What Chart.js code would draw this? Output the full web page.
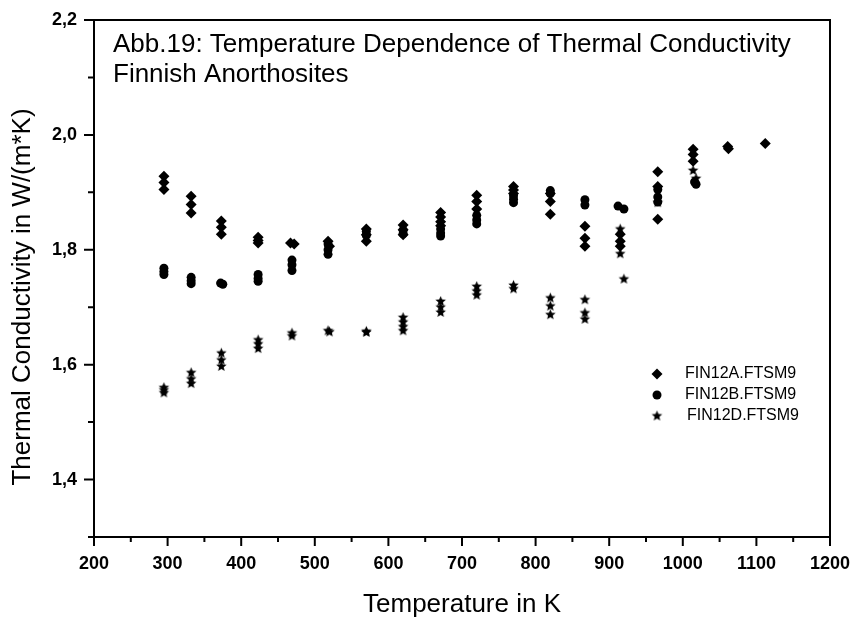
<!DOCTYPE html>
<html>
<head>
<meta charset="utf-8">
<script src="https://cdn.jsdelivr.net/npm/chart.js@4/dist/chart.umd.min.js"></script>
<style>
  body { margin: 0; background: #fff; }
  canvas { display: block; }
</style>
</head>
<body>
<canvas id="myChart" width="851" height="621"></canvas>
<script>
// FIN12A.FTSM9 (diamonds)
const tempA = [295,295,295, 332,332,332, 373,373,373, 423,423,423, 467,472, 518,520,
  570,570,570, 620,620,620, 671,671,671,671, 720,720,720, 770,770,770, 820,820,820,
  867,867,867, 915,915,915, 966,966,966, 1014,1014,1014, 1061,1062, 1112];
const condA = [1.928,1.917,1.905, 1.893,1.879,1.864, 1.850,1.839,1.827, 1.822,1.816,1.812, 1.812,1.810, 1.815,1.806,
  1.836,1.826,1.815, 1.843,1.835,1.826, 1.865,1.857,1.849,1.842, 1.895,1.884,1.871, 1.910,1.904,1.898, 1.898,1.884,1.862,
  1.841,1.820,1.806, 1.827,1.815,1.806, 1.936,1.910,1.853, 1.975,1.966,1.954, 1.980,1.976, 1.985];

// FIN12B.FTSM9 (circles)
const tempB = [295,295,295, 332,332,332, 372,375, 423,423,423, 469,469,469, 518,518,518,
  570,570, 620,620, 671,671,671, 720,720,720, 770,770,770, 820,820, 867,867, 912,920,
  966,966,966, 1016,1018];
const condB = [1.768,1.762,1.757, 1.752,1.746,1.741, 1.742,1.740, 1.757,1.750,1.745, 1.782,1.774,1.764, 1.810,1.800,1.792,
  1.832,1.825, 1.834,1.828, 1.836,1.829,1.824, 1.860,1.852,1.845, 1.894,1.888,1.882, 1.903,1.898, 1.887,1.878, 1.876,1.871,
  1.905,1.892,1.883, 1.918,1.914];

// FIN12D.FTSM9 (stars)
const tempD = [295,295,295, 332,332,332, 373,373,373, 423,423,423, 469,469, 518,520,
  570,570, 620,620,620,620, 671,671,671, 720,720,720, 770,770, 820,820,820,
  867,867,867, 915,915,920, 966, 1014,1018];
const condD = [1.560,1.556,1.551, 1.586,1.575,1.567, 1.620,1.608,1.597, 1.643,1.636,1.628, 1.655,1.650, 1.659,1.657,
  1.658,1.656, 1.682,1.674,1.666,1.659, 1.710,1.700,1.691, 1.736,1.728,1.721, 1.738,1.732, 1.716,1.702,1.687,
  1.713,1.690,1.679, 1.836,1.793,1.749, 1.882, 1.938,1.924];

const seriesNames = ['FIN12A.FTSM9', 'FIN12B.FTSM9', 'FIN12D.FTSM9'];
const titleLines = ['Abb.19: Temperature Dependence of Thermal Conductivity', 'Finnish Anorthosites'];
const xTitle = 'Temperature in K';
const yTitle = 'Thermal Conductivity in W/(m*K)';

const FONT = 'Arial, "Liberation Sans", sans-serif';

// filled five point star used as point style
function makeStar(r) {
  const c = document.createElement('canvas');
  const s = Math.ceil(r * 2) + 2;
  c.width = s; c.height = s;
  const g = c.getContext('2d');
  g.fillStyle = '#000';
  g.beginPath();
  for (let i = 0; i < 10; i++) {
    const rad = (i % 2 === 0) ? r : r * 0.45;
    const a = -Math.PI / 2 + i * Math.PI / 5;
    const px = s / 2 + Math.cos(a) * rad, py = s / 2 + Math.sin(a) * rad;
    if (i === 0) g.moveTo(px, py); else g.lineTo(px, py);
  }
  g.closePath();
  g.fill();
  return c;
}
const starImg = makeStar(5.5);

function toPoints(xs, ys) {
  return xs.map((x, i) => ({x: x, y: ys[i]}));
}

const pointStyles = [
  {pointStyle: 'rectRot', radius: 5.5},
  {pointStyle: 'circle', radius: 4.5},
  {pointStyle: starImg, radius: 5.5}
];

const decor = {
  id: 'decor',
  afterDraw(chart) {
    const ctx = chart.ctx;
    const a = chart.chartArea;
    const xs = chart.scales.x, ys = chart.scales.y;
    ctx.save();
    ctx.strokeStyle = '#000';
    ctx.lineWidth = 2;
    ctx.strokeRect(a.left, a.top, a.right - a.left, a.bottom - a.top);
    // tick marks, long ones where there is a label
    ctx.beginPath();
    xs.ticks.forEach(t => {
      const px = xs.getPixelForValue(t.value);
      const len = t.label ? 9 : 5;
      ctx.moveTo(px, a.bottom);
      ctx.lineTo(px, a.bottom + len);
    });
    ys.ticks.forEach(t => {
      const py = ys.getPixelForValue(t.value);
      const len = t.label ? 10 : 6;
      ctx.moveTo(a.left, py);
      ctx.lineTo(a.left - len, py);
    });
    ctx.stroke();

    // title inside the plot
    ctx.fillStyle = '#000';
    ctx.font = '26px ' + FONT;
    ctx.textAlign = 'left';
    ctx.textBaseline = 'alphabetic';
    ctx.fillText(titleLines[0], 113, 52);
    ctx.fillText(titleLines[1], 113, 82);

    // y axis title, sits a bit lower than the plot centre
    ctx.save();
    ctx.translate(23, 297);
    ctx.rotate(-Math.PI / 2);
    ctx.textAlign = 'center';
    ctx.textBaseline = 'middle';
    ctx.fillText(yTitle, 0, 0);
    ctx.restore();

    // legend
    ctx.font = '16px ' + FONT;
    ctx.textBaseline = 'middle';
    seriesNames.forEach((name, i) => {
      const y = 374 + i * 21;
      const st = pointStyles[i];
      ctx.fillStyle = '#000';
      Chart.helpers.drawPoint(ctx, {pointStyle: st.pointStyle, radius: st.radius, rotation: 0, borderWidth: 0}, 657, y);
      ctx.fillText(name, i === 2 ? 687 : 685, y);
    });
    ctx.restore();
  }
};

const ctx = document.getElementById('myChart').getContext('2d');
const myChart = new Chart(ctx, {
  type: 'scatter',
  data: {
    datasets: [
      {label: seriesNames[0], data: toPoints(tempA, condA)},
      {label: seriesNames[1], data: toPoints(tempB, condB)},
      {label: seriesNames[2], data: toPoints(tempD, condD)}
    ].map((d, i) => Object.assign(d, {
      pointStyle: pointStyles[i].pointStyle,
      pointRadius: pointStyles[i].radius,
      pointBorderWidth: 0,
      backgroundColor: '#000',
      borderColor: '#000'
    }))
  },
  options: {
    responsive: false,
    animation: false,
    layout: {padding: {left: 0, top: 20, right: 21, bottom: 0}},
    plugins: {legend: {display: false}, tooltip: {enabled: false}},
    scales: {
      x: {
        type: 'linear',
        min: 200, max: 1200,
        border: {display: false},
        grid: {display: false, drawTicks: false},
        ticks: {
          stepSize: 50, autoSkip: false, maxRotation: 0, padding: 16,
          color: '#000', font: {family: FONT, size: 18, weight: 'bold'},
          callback: v => (v % 100 === 0 ? String(v) : '')
        },
        title: {display: true, text: xTitle, color: '#000', font: {family: FONT, size: 26}, padding: {top: 0, bottom: 1}},
        afterFit: s => { s.height = 84; s.paddingLeft = 0; s.paddingRight = 0; }
      },
      y: {
        type: 'linear',
        min: 1.3, max: 2.2,
        border: {display: false},
        grid: {display: false, drawTicks: false},
        ticks: {
          stepSize: 0.1, autoSkip: false, padding: 17,
          color: '#000', font: {family: FONT, size: 18, weight: 'bold'},
          callback: v => (Math.round(v * 10) % 2 === 0 ? v.toFixed(1).replace('.', ',') : '')
        },
        afterFit: s => { s.width = 94; s.paddingTop = 0; s.paddingBottom = 0; }
      }
    }
  },
  plugins: [decor]
});
</script>
</body>
</html>
